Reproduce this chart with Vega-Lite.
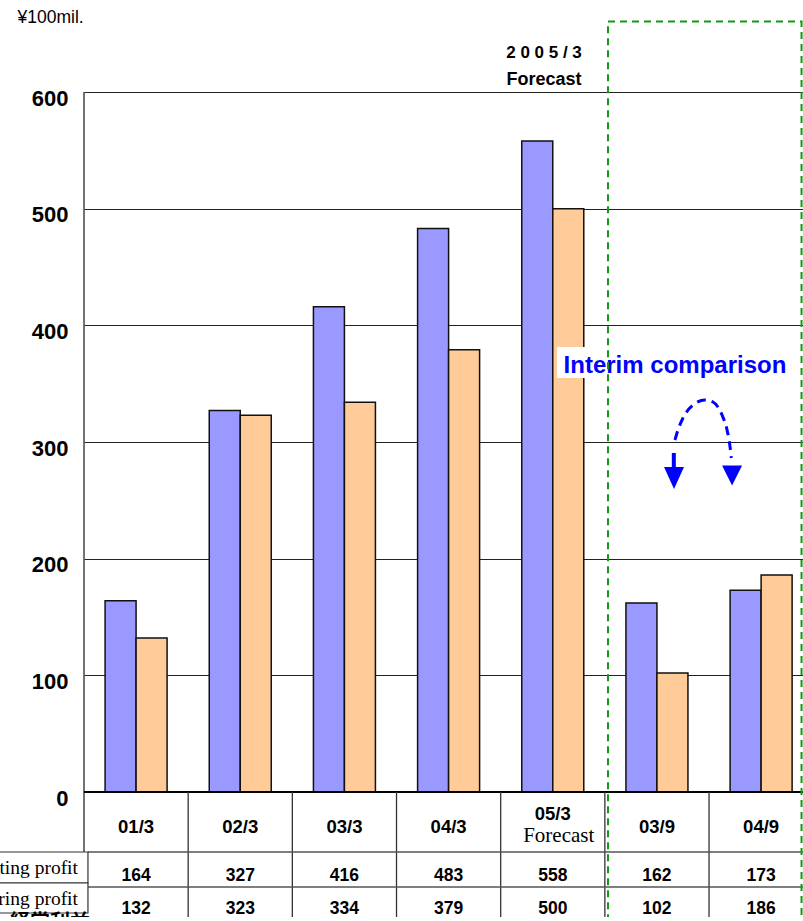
{
  "$schema": "https://vega.github.io/schema/vega-lite/v6.json",
  "width": 718,
  "height": 825,
  "autosize": {"type": "none"},
  "padding": {"left": 84, "top": 92, "right": 1, "bottom": 0},
  "background": "white",
  "config": {"view": {"stroke": null}, "font": "Liberation Sans"},
  "datasets": {
    "profit": [
      {"period": "01/3", "series": "Operating profit", "value": 164},
      {"period": "01/3", "series": "Recurring profit", "value": 132},
      {"period": "02/3", "series": "Operating profit", "value": 327},
      {"period": "02/3", "series": "Recurring profit", "value": 323},
      {"period": "03/3", "series": "Operating profit", "value": 416},
      {"period": "03/3", "series": "Recurring profit", "value": 334},
      {"period": "04/3", "series": "Operating profit", "value": 483},
      {"period": "04/3", "series": "Recurring profit", "value": 379},
      {"period": "05/3", "series": "Operating profit", "value": 558},
      {"period": "05/3", "series": "Recurring profit", "value": 500},
      {"period": "03/9", "series": "Operating profit", "value": 162},
      {"period": "03/9", "series": "Recurring profit", "value": 102},
      {"period": "04/9", "series": "Operating profit", "value": 173},
      {"period": "04/9", "series": "Recurring profit", "value": 186}
    ],
    "interim_arc": [
      {"slot": 5.673, "y": 301.7},
      {"slot": 5.702, "y": 310.3},
      {"slot": 5.750, "y": 320.6},
      {"slot": 5.846, "y": 331.7},
      {"slot": 5.961, "y": 336.0},
      {"slot": 6.038, "y": 334.3},
      {"slot": 6.125, "y": 323.1},
      {"slot": 6.173, "y": 310.3},
      {"slot": 6.202, "y": 295.7},
      {"slot": 6.214, "y": 286.3}
    ],
    "dividers": [
      {"slot": 1}, {"slot": 2}, {"slot": 3}, {"slot": 4}, {"slot": 5}, {"slot": 6}
    ]
  },
  "resolve": {"scale": {"x": "independent"}},
  "layer": [
    {
      "data": {"name": "profit"},
      "encoding": {
        "x": {
          "field": "period",
          "type": "nominal",
          "sort": ["01/3", "02/3", "03/3", "04/3", "05/3", "03/9", "04/9"],
          "scale": {"range": [0, 729.2], "paddingInner": 0, "paddingOuter": 0},
          "axis": null
        }
      },
      "layer": [
        {
          "mark": {"type": "bar", "stroke": "#111111", "strokeWidth": 1.5},
          "encoding": {
            "xOffset": {
              "field": "series",
              "type": "nominal",
              "sort": ["Operating profit", "Recurring profit"],
              "scale": {"paddingInner": 0, "paddingOuter": 0.68}
            },
            "y": {
              "field": "value",
              "type": "quantitative",
              "scale": {"domain": [-107.14, 600], "nice": false, "zero": false},
              "axis": {
                "values": [0, 100, 200, 300, 400, 500, 600],
                "title": "¥100mil.",
                "titleAngle": 0,
                "titleAlign": "left",
                "titleBaseline": "middle",
                "titleX": -67,
                "titleY": -75,
                "titleFontSize": 17.5,
                "titleFontWeight": "normal",
                "titleColor": "#000000",
                "labelFontSize": 22,
                "labelFontWeight": "bold",
                "labelColor": "#000000",
                "labelPadding": 16,
                "labelOffset": 6,
                "ticks": false,
                "domain": false,
                "grid": true,
                "gridColor": "#222222",
                "gridWidth": 1
              }
            },
            "y2": {"datum": 0},
            "color": {
              "field": "series",
              "type": "nominal",
              "scale": {"domain": ["Operating profit", "Recurring profit"], "range": ["#9999FF", "#FFCC99"]},
              "legend": null
            }
          }
        },
        {
          "transform": [{"filter": "datum.series === 'Operating profit' && datum.period !== '05/3'"}],
          "mark": {"type": "text", "fontSize": 18.5, "fontWeight": "bold", "color": "#000000", "baseline": "middle"},
          "encoding": {"y": {"datum": -29.6}, "text": {"field": "period"}}
        },
        {
          "transform": [{"filter": "datum.series === 'Operating profit' && datum.period === '05/3'"}],
          "mark": {"type": "text", "fontSize": 18.5, "fontWeight": "bold", "color": "#000000", "baseline": "middle"},
          "encoding": {"y": {"datum": -18.9}, "text": {"field": "period"}}
        },
        {
          "transform": [{"filter": "datum.series === 'Operating profit' && datum.period === '05/3'"}],
          "mark": {"type": "text", "font": "Liberation Serif", "fontSize": 21, "color": "#000000", "baseline": "middle", "dx": 6},
          "encoding": {"y": {"datum": -37.7}, "text": {"value": "Forecast"}}
        },
        {
          "transform": [{"filter": "datum.series === 'Operating profit'"}],
          "mark": {"type": "text", "fontSize": 17.5, "fontWeight": "bold", "color": "#000000", "baseline": "middle"},
          "encoding": {"y": {"datum": -72.4}, "text": {"field": "value"}}
        },
        {
          "transform": [{"filter": "datum.series === 'Recurring profit'"}],
          "mark": {"type": "text", "fontSize": 17.5, "fontWeight": "bold", "color": "#000000", "baseline": "middle"},
          "encoding": {"y": {"datum": -99.9}, "text": {"field": "value"}}
        }
      ]
    },
    {
      "data": {"values": [{}]},
      "layer": [
        {
          "mark": {"type": "rect", "fill": "#FFFFFF"},
          "encoding": {
            "x": {"datum": 4.541, "type": "quantitative", "scale": {"domain": [0, 7], "range": [0, 729.2]}, "axis": null},
            "x2": {"datum": 6.739},
            "y": {"datum": 381.4},
            "y2": {"datum": 354.9}
          }
        },
        {
          "mark": {"type": "text", "fontSize": 24, "fontWeight": "bold", "color": "#0000FF", "align": "center", "baseline": "middle"},
          "encoding": {"x": {"datum": 5.673, "type": "quantitative"}, "y": {"datum": 365.1}, "text": {"value": "Interim comparison"}}
        },
        {
          "data": {"name": "interim_arc"},
          "mark": {"type": "line", "color": "#0000FF", "strokeWidth": 3, "strokeDash": [9, 6], "interpolate": "monotone"},
          "encoding": {"x": {"field": "slot", "type": "quantitative"}, "y": {"field": "y", "type": "quantitative"}}
        },
        {
          "mark": {"type": "rule", "color": "#0000FF", "strokeWidth": 4},
          "encoding": {"x": {"datum": 5.662, "type": "quantitative"}, "y": {"datum": 290.6}, "y2": {"datum": 276}}
        },
        {
          "mark": {"type": "point", "filled": true, "opacity": 1, "color": "#0000FF", "shape": "M-1,-1.1L1,-1.1L0,1.1Z", "size": 400},
          "encoding": {"x": {"datum": 5.664, "type": "quantitative"}, "y": {"datum": 269.1}}
        },
        {
          "mark": {"type": "point", "filled": true, "opacity": 1, "color": "#0000FF", "shape": "M-1,-1L1,-1L0,1Z", "size": 400},
          "encoding": {"x": {"datum": 6.221, "type": "quantitative"}, "y": {"datum": 271.3}}
        },
        {
          "mark": {"type": "rule", "color": "#444444", "strokeWidth": 1.5},
          "encoding": {"x": {"datum": 0, "type": "quantitative"}, "y": {"datum": 600}, "y2": {"datum": -51.43}}
        },
        {
          "mark": {"type": "rule", "color": "#000000", "strokeWidth": 2},
          "encoding": {"x": {"datum": 0, "type": "quantitative"}, "x2": {"datum": 6.9}, "y": {"datum": 0}}
        },
        {
          "data": {"name": "dividers"},
          "mark": {"type": "rule", "color": "#333333", "strokeWidth": 1.3},
          "encoding": {"x": {"field": "slot", "type": "quantitative"}, "y": {"datum": 0}, "y2": {"datum": -107.14}}
        },
        {
          "mark": {"type": "rule", "color": "#555555", "strokeWidth": 1.3},
          "encoding": {"x": {"datum": 0.038, "type": "quantitative"}, "x2": {"datum": 6.9}, "y": {"datum": -51.43}}
        },
        {
          "mark": {"type": "rule", "color": "#555555", "strokeWidth": 1.3},
          "encoding": {"x": {"datum": 0.038, "type": "quantitative"}, "x2": {"datum": 6.9}, "y": {"datum": -81.43}}
        },
        {
          "mark": {"type": "rect", "fill": "#FFFFFF", "stroke": "#333333", "strokeWidth": 1.2},
          "encoding": {"x": {"datum": -1.2, "type": "quantitative"}, "x2": {"datum": 0.038}, "y": {"datum": -51.43}, "y2": {"datum": -78}}
        },
        {
          "mark": {"type": "rect", "fill": "#FFFFFF", "stroke": "#333333", "strokeWidth": 1.2},
          "encoding": {"x": {"datum": -1.2, "type": "quantitative"}, "x2": {"datum": 0.038}, "y": {"datum": -78}, "y2": {"datum": -103.7}}
        },
        {
          "mark": {"type": "text", "font": "Noto Sans CJK JP", "fontSize": 20, "fontWeight": "bold", "color": "#000000", "align": "left", "baseline": "top"},
          "encoding": {"x": {"datum": -0.71, "type": "quantitative"}, "y": {"datum": -103.7}, "text": {"value": "経常利益"}}
        },
        {
          "mark": {"type": "text", "font": "Liberation Serif", "fontSize": 19.5, "color": "#000000", "align": "right", "baseline": "middle"},
          "encoding": {"x": {"datum": -0.058, "type": "quantitative"}, "y": {"datum": -65.5}, "text": {"value": "Operating profit"}}
        },
        {
          "mark": {"type": "text", "font": "Liberation Serif", "fontSize": 19.5, "color": "#000000", "align": "right", "baseline": "middle"},
          "encoding": {"x": {"datum": -0.058, "type": "quantitative"}, "y": {"datum": -92.0}, "text": {"value": "Recurring profit"}}
        },
        {
          "mark": {"type": "text", "fontSize": 17, "fontWeight": "bold", "color": "#000000", "align": "center", "baseline": "middle"},
          "encoding": {"x": {"datum": 4.416, "type": "quantitative"}, "y": {"datum": 633.4}, "text": {"value": "2 0 0 5 / 3"}}
        },
        {
          "mark": {"type": "text", "fontSize": 18, "fontWeight": "bold", "color": "#000000", "align": "center", "baseline": "middle"},
          "encoding": {"x": {"datum": 4.416, "type": "quantitative"}, "y": {"datum": 610.3}, "text": {"value": "Forecast"}}
        },
        {
          "mark": {"type": "rect", "fillOpacity": 0, "stroke": "#119911", "strokeWidth": 2, "strokeDash": [7, 5]},
          "encoding": {"x": {"datum": 5.03, "type": "quantitative"}, "x2": {"datum": 6.888}, "y": {"datum": 660.4}, "y2": {"datum": -125}}
        }
      ]
    }
  ]
}
